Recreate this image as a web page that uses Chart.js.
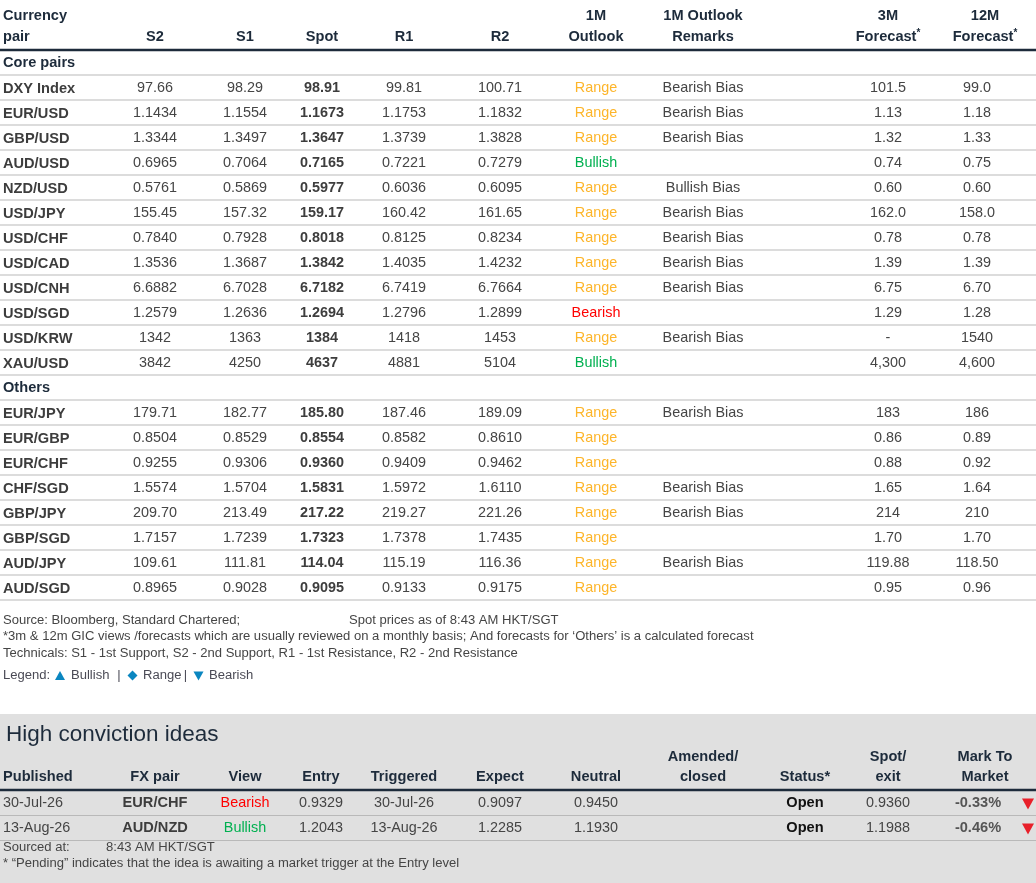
<!DOCTYPE html>
<html>
<head>
<meta charset="utf-8">
<title>FX outlook</title>
<script src="https://cdn.jsdelivr.net/npm/chart.js@4.4.1/dist/chart.umd.min.js"></script>
<style>
    html, body { margin: 0; padding: 0; background: #ffffff; }
    #wrap { width: 1036px; height: 883px; position: relative; }
</style>
</head>
<body>
<div id="wrap"><canvas id="fxTable"></canvas></div>
<script>
// ---- Top table data (core pairs first, then others) ----
const corePairs = ['DXY Index', 'EUR/USD', 'GBP/USD', 'AUD/USD', 'NZD/USD', 'USD/JPY',
    'USD/CHF', 'USD/CAD', 'USD/CNH', 'USD/SGD', 'USD/KRW', 'XAU/USD'];
const otherPairs = ['EUR/JPY', 'EUR/GBP', 'EUR/CHF', 'CHF/SGD', 'GBP/JPY', 'GBP/SGD', 'AUD/JPY', 'AUD/SGD'];

const s2 = ['97.66', '1.1434', '1.3344', '0.6965', '0.5761', '155.45', '0.7840', '1.3536', '6.6882', '1.2579', '1342', '3842',
    '179.71', '0.8504', '0.9255', '1.5574', '209.70', '1.7157', '109.61', '0.8965'];
const s1 = ['98.29', '1.1554', '1.3497', '0.7064', '0.5869', '157.32', '0.7928', '1.3687', '6.7028', '1.2636', '1363', '4250',
    '182.77', '0.8529', '0.9306', '1.5704', '213.49', '1.7239', '111.81', '0.9028'];
const spot = ['98.91', '1.1673', '1.3647', '0.7165', '0.5977', '159.17', '0.8018', '1.3842', '6.7182', '1.2694', '1384', '4637',
    '185.80', '0.8554', '0.9360', '1.5831', '217.22', '1.7323', '114.04', '0.9095'];
const r1 = ['99.81', '1.1753', '1.3739', '0.7221', '0.6036', '160.42', '0.8125', '1.4035', '6.7419', '1.2796', '1418', '4881',
    '187.46', '0.8582', '0.9409', '1.5972', '219.27', '1.7378', '115.19', '0.9133'];
const r2 = ['100.71', '1.1832', '1.3828', '0.7279', '0.6095', '161.65', '0.8234', '1.4232', '6.7664', '1.2899', '1453', '5104',
    '189.09', '0.8610', '0.9462', '1.6110', '221.26', '1.7435', '116.36', '0.9175'];
const outlook1m = ['Range', 'Range', 'Range', 'Bullish', 'Range', 'Range', 'Range', 'Range', 'Range', 'Bearish', 'Range', 'Bullish',
    'Range', 'Range', 'Range', 'Range', 'Range', 'Range', 'Range', 'Range'];
const remarks1m = ['Bearish Bias', 'Bearish Bias', 'Bearish Bias', '', 'Bullish Bias', 'Bearish Bias', 'Bearish Bias', 'Bearish Bias',
    'Bearish Bias', '', 'Bearish Bias', '', 'Bearish Bias', '', '', 'Bearish Bias', 'Bearish Bias', '', 'Bearish Bias', ''];
const forecast3m = ['101.5', '1.13', '1.32', '0.74', '0.60', '162.0', '0.78', '1.39', '6.75', '1.29', '-', '4,300',
    '183', '0.86', '0.88', '1.65', '214', '1.70', '119.88', '0.95'];
const forecast12m = ['99.0', '1.18', '1.33', '0.75', '0.60', '158.0', '0.78', '1.39', '6.70', '1.28', '1540', '4,600',
    '186', '0.89', '0.92', '1.64', '210', '1.70', '118.50', '0.96'];

// ---- High conviction ideas ----
const ideaPublished = ['30-Jul-26', '13-Aug-26'];
const ideaPair = ['EUR/CHF', 'AUD/NZD'];
const ideaView = ['Bearish', 'Bullish'];
const ideaEntry = ['0.9329', '1.2043'];
const ideaTriggered = ['30-Jul-26', '13-Aug-26'];
const ideaExpect = ['0.9097', '1.2285'];
const ideaNeutral = ['0.9450', '1.1930'];
const ideaAmended = ['', ''];
const ideaStatus = ['Open', 'Open'];
const ideaSpotExit = ['0.9360', '1.1988'];
const ideaMtm = ['-0.33%', '-0.46%'];

// ---- layout / style ----
const FONT = '"Liberation Sans", Arial, sans-serif';
const NAVY = '#1d2b3b';
const BODY = '#454545';
const LABEL = '#3d3d3d';
const RULE = '#b9b9b9';
const outlookColors = { Range: '#FDB52A', Bullish: '#00B050', Bearish: '#FF0000' };

const rowH = 25;
const topRow0 = 50;            // bottom of the header rule
const topCols = { s2: 155, s1: 245, spot: 322, r1: 404, r2: 500, outlook: 596, remarks: 703, fc3: 888, fc12: 977, fc12Head: 985 };
const ideaCols = { pair: 155, view: 245, entry: 321, trig: 404, expect: 500, neutral: 596, amended: 703, status: 805, spotExit: 888, mtm: 978, arrow: 1028 };
const boxTop = 714;
const ideaRow0 = 790;

const tablePlugin = {
    id: 'tablePlugin',
    beforeDraw(chart) {
        const ctx = chart.ctx;
        const xs = chart.scales.x, ys = chart.scales.y;
        ctx.save();
        ctx.fillStyle = '#ffffff';
        ctx.fillRect(0, 0, chart.width, chart.height);
        // grey panel for the ideas block
        ctx.fillStyle = '#e0e0e0';
        ctx.fillRect(xs.getPixelForValue(0), ys.getPixelForValue(boxTop),
            xs.getPixelForValue(1036) - xs.getPixelForValue(0), ys.getPixelForValue(883) - ys.getPixelForValue(boxTop));
        ctx.restore();
    },
    afterDraw(chart) {
        const ctx = chart.ctx;
        const xs = chart.scales.x, ys = chart.scales.y;
        const X = v => xs.getPixelForValue(v);
        const Y = v => ys.getPixelForValue(v);

        function text(s, x, y, size, color, bold, align) {
            if (!s) return;
            ctx.font = (bold ? 'bold ' : '') + size + 'px ' + FONT;
            ctx.fillStyle = color;
            ctx.textAlign = align || 'center';
            ctx.textBaseline = 'middle';
            ctx.fillText(s, X(x), Y(y));
        }
        // text with a small raised asterisk, centred on x
        function starred(s, x, y, size, color) {
            ctx.font = 'bold ' + size + 'px ' + FONT;
            const w1 = ctx.measureText(s).width;
            ctx.font = 'bold 10px ' + FONT;
            const w2 = ctx.measureText('*').width;
            const left = X(x) - (w1 + w2) / 2;
            ctx.fillStyle = color;
            ctx.textBaseline = 'middle';
            ctx.textAlign = 'left';
            ctx.font = 'bold ' + size + 'px ' + FONT;
            ctx.fillText(s, left, Y(y));
            ctx.font = 'bold 10px ' + FONT;
            ctx.fillText('*', left + w1, Y(y) - 4);
        }
        function hline(y, color, width) {
            ctx.strokeStyle = color;
            ctx.lineWidth = width;
            ctx.beginPath();
            ctx.moveTo(X(0), Y(y));
            ctx.lineTo(X(1036), Y(y));
            ctx.stroke();
        }
        function tri(x, y, size, up, color) {
            const cx = X(x), cy = Y(y), h = size * 0.9;
            ctx.fillStyle = color;
            ctx.beginPath();
            if (up) {
                ctx.moveTo(cx - size / 2, cy + h / 2);
                ctx.lineTo(cx + size / 2, cy + h / 2);
                ctx.lineTo(cx, cy - h / 2);
            } else {
                ctx.moveTo(cx - size / 2, cy - h / 2);
                ctx.lineTo(cx + size / 2, cy - h / 2);
                ctx.lineTo(cx, cy + h / 2);
            }
            ctx.closePath();
            ctx.fill();
        }

        ctx.save();

        // ---- top table header ----
        const h1 = 16, h2 = 37, hs = 14.6, bs = 14.4;
        text('Currency', 3, h1, hs, NAVY, true, 'left');
        text('pair', 3, h2, hs, NAVY, true, 'left');
        text('S2', topCols.s2, h2, hs, NAVY, true);
        text('S1', topCols.s1, h2, hs, NAVY, true);
        text('Spot', topCols.spot, h2, hs, NAVY, true);
        text('R1', topCols.r1, h2, hs, NAVY, true);
        text('R2', topCols.r2, h2, hs, NAVY, true);
        text('1M', topCols.outlook, h1, hs, NAVY, true);
        text('Outlook', topCols.outlook, h2, hs, NAVY, true);
        text('1M Outlook', topCols.remarks, h1, hs, NAVY, true);
        text('Remarks', topCols.remarks, h2, hs, NAVY, true);
        text('3M', topCols.fc3, h1, hs, NAVY, true);
        starred('Forecast', topCols.fc3, h2, hs, NAVY);
        text('12M', topCols.fc12Head, h1, hs, NAVY, true);
        starred('Forecast', topCols.fc12Head, h2, hs, NAVY);
        hline(topRow0, NAVY, 2.5);

        // ---- top table body ----
        const allPairs = corePairs.concat(otherPairs);
        let row = 0;
        const groupRow = (label) => {
            const yc = topRow0 + row * rowH + rowH / 2 + 0.5;
            text(label, 3, yc, hs, NAVY, true, 'left');
            row++;
            hline(topRow0 + row * rowH, RULE, 1);
        };
        const dataRow = (i) => {
            const yc = topRow0 + row * rowH + rowH / 2 + 1;
            text(allPairs[i], 3, yc, hs, LABEL, true, 'left');
            text(s2[i], topCols.s2, yc, bs, BODY, false);
            text(s1[i], topCols.s1, yc, bs, BODY, false);
            text(spot[i], topCols.spot, yc, bs, LABEL, true);
            text(r1[i], topCols.r1, yc, bs, BODY, false);
            text(r2[i], topCols.r2, yc, bs, BODY, false);
            text(outlook1m[i], topCols.outlook, yc, bs, outlookColors[outlook1m[i]], false);
            text(remarks1m[i], topCols.remarks, yc, bs, BODY, false);
            text(forecast3m[i], topCols.fc3, yc, bs, BODY, false);
            text(forecast12m[i], topCols.fc12, yc, bs, BODY, false);
            row++;
            hline(topRow0 + row * rowH, RULE, 1);
        };
        groupRow('Core pairs');
        corePairs.forEach((p, i) => dataRow(i));
        groupRow('Others');
        otherPairs.forEach((p, i) => dataRow(corePairs.length + i));

        // ---- notes ----
        const fs = 13.05;
        text('Source: Bloomberg, Standard Chartered;', 3, 620, fs, BODY, false, 'left');
        text('Spot prices as of 8:43 AM HKT/SGT', 349, 620, fs, BODY, false, 'left');
        text('*3m & 12m GIC views /forecasts which are usually reviewed on a monthly basis; And forecasts for \u2018Others\u2019 is a calculated forecast', 3, 636.5, fs, BODY, false, 'left');
        text('Technicals: S1 - 1st Support, S2 - 2nd Support, R1 - 1st Resistance, R2 - 2nd Resistance', 3, 653, fs, BODY, false, 'left');

        // legend line with blue markers
        const legY = 675.5;
        const BLUE = '#0a86c0';
        const LEG = '#4a4a55';
        text('Legend:', 3, legY, fs, LEG, false, 'left');
        tri(60, legY, 10, true, BLUE);
        text('Bullish', 71, legY, fs, LEG, false, 'left');
        text('|', 119, legY, fs, LEG, false, 'center');
        ctx.fillStyle = BLUE;
        ctx.beginPath();
        ctx.moveTo(X(132.5), Y(legY - 5));
        ctx.lineTo(X(137.5), Y(legY));
        ctx.lineTo(X(132.5), Y(legY + 5));
        ctx.lineTo(X(127.5), Y(legY));
        ctx.closePath();
        ctx.fill();
        text('Range', 143, legY, fs, LEG, false, 'left');
        text('|', 185.5, legY, fs, LEG, false, 'center');
        tri(198.5, legY + 0.5, 10, false, BLUE);
        text('Bearish', 209, legY, fs, LEG, false, 'left');

        // ---- high conviction ideas ----
        text('High conviction ideas', 6, 735, 22.5, NAVY, false, 'left');
        const ih1 = 757, ih2 = 777;
        text('Published', 3, ih2, hs, NAVY, true, 'left');
        text('FX pair', ideaCols.pair, ih2, hs, NAVY, true);
        text('View', ideaCols.view, ih2, hs, NAVY, true);
        text('Entry', ideaCols.entry, ih2, hs, NAVY, true);
        text('Triggered', ideaCols.trig, ih2, hs, NAVY, true);
        text('Expect', ideaCols.expect, ih2, hs, NAVY, true);
        text('Neutral', ideaCols.neutral, ih2, hs, NAVY, true);
        text('Amended/', ideaCols.amended, ih1, hs, NAVY, true);
        text('closed', ideaCols.amended, ih2, hs, NAVY, true);
        text('Status*', ideaCols.status, ih2, hs, NAVY, true);
        text('Spot/', ideaCols.spotExit, ih1, hs, NAVY, true);
        text('exit', ideaCols.spotExit, ih2, hs, NAVY, true);
        text('Mark To', 985, ih1, hs, NAVY, true);
        text('Market', 985, ih2, hs, NAVY, true);
        hline(ideaRow0, NAVY, 2.5);

        ideaPublished.forEach((d, i) => {
            const yc = ideaRow0 + i * rowH + 13;
            text(d, 3, yc, bs, BODY, false, 'left');
            text(ideaPair[i], ideaCols.pair, yc, hs, LABEL, true);
            text(ideaView[i], ideaCols.view, yc, bs, outlookColors[ideaView[i]], false);
            text(ideaEntry[i], ideaCols.entry, yc, bs, BODY, false);
            text(ideaTriggered[i], ideaCols.trig, yc, bs, BODY, false);
            text(ideaExpect[i], ideaCols.expect, yc, bs, BODY, false);
            text(ideaNeutral[i], ideaCols.neutral, yc, bs, BODY, false);
            text(ideaAmended[i], ideaCols.amended, yc, bs, BODY, false);
            text(ideaStatus[i], ideaCols.status, yc, hs, '#111111', true);
            text(ideaSpotExit[i], ideaCols.spotExit, yc, bs, BODY, false);
            text(ideaMtm[i], ideaCols.mtm, yc, hs, '#555555', true);
            if (ideaMtm[i].charAt(0) === '-') {
                tri(ideaCols.arrow, yc + 1, 12, false, '#e8202a');
            } else {
                tri(ideaCols.arrow, yc + 1, 12, true, '#00B050');
            }
            hline(ideaRow0 + (i + 1) * rowH + 0.5, RULE, 1);
        });

        text('Sourced at:', 3, 847, fs, BODY, false, 'left');
        text('8:43 AM HKT/SGT', 106, 847, fs, BODY, false, 'left');
        text('* \u201cPending\u201d indicates that the idea is awaiting a market trigger at the Entry level', 3, 863, fs, BODY, false, 'left');

        ctx.restore();
    }
};

document.addEventListener('DOMContentLoaded', function () {
    const ctx = document.getElementById('fxTable').getContext('2d');
    new Chart(ctx, {
        type: 'scatter',
        data: { datasets: [{ data: [] }] },
        options: {
            responsive: true,
            maintainAspectRatio: false,
            animation: false,
            layout: { padding: 0 },
            scales: {
                x: { type: 'linear', min: 0, max: 1036, display: false },
                y: { type: 'linear', min: 0, max: 883, reverse: true, display: false }
            },
            plugins: {
                legend: { display: false },
                tooltip: { enabled: false }
            }
        },
        plugins: [tablePlugin]
    });
});
</script>
</body>
</html>
